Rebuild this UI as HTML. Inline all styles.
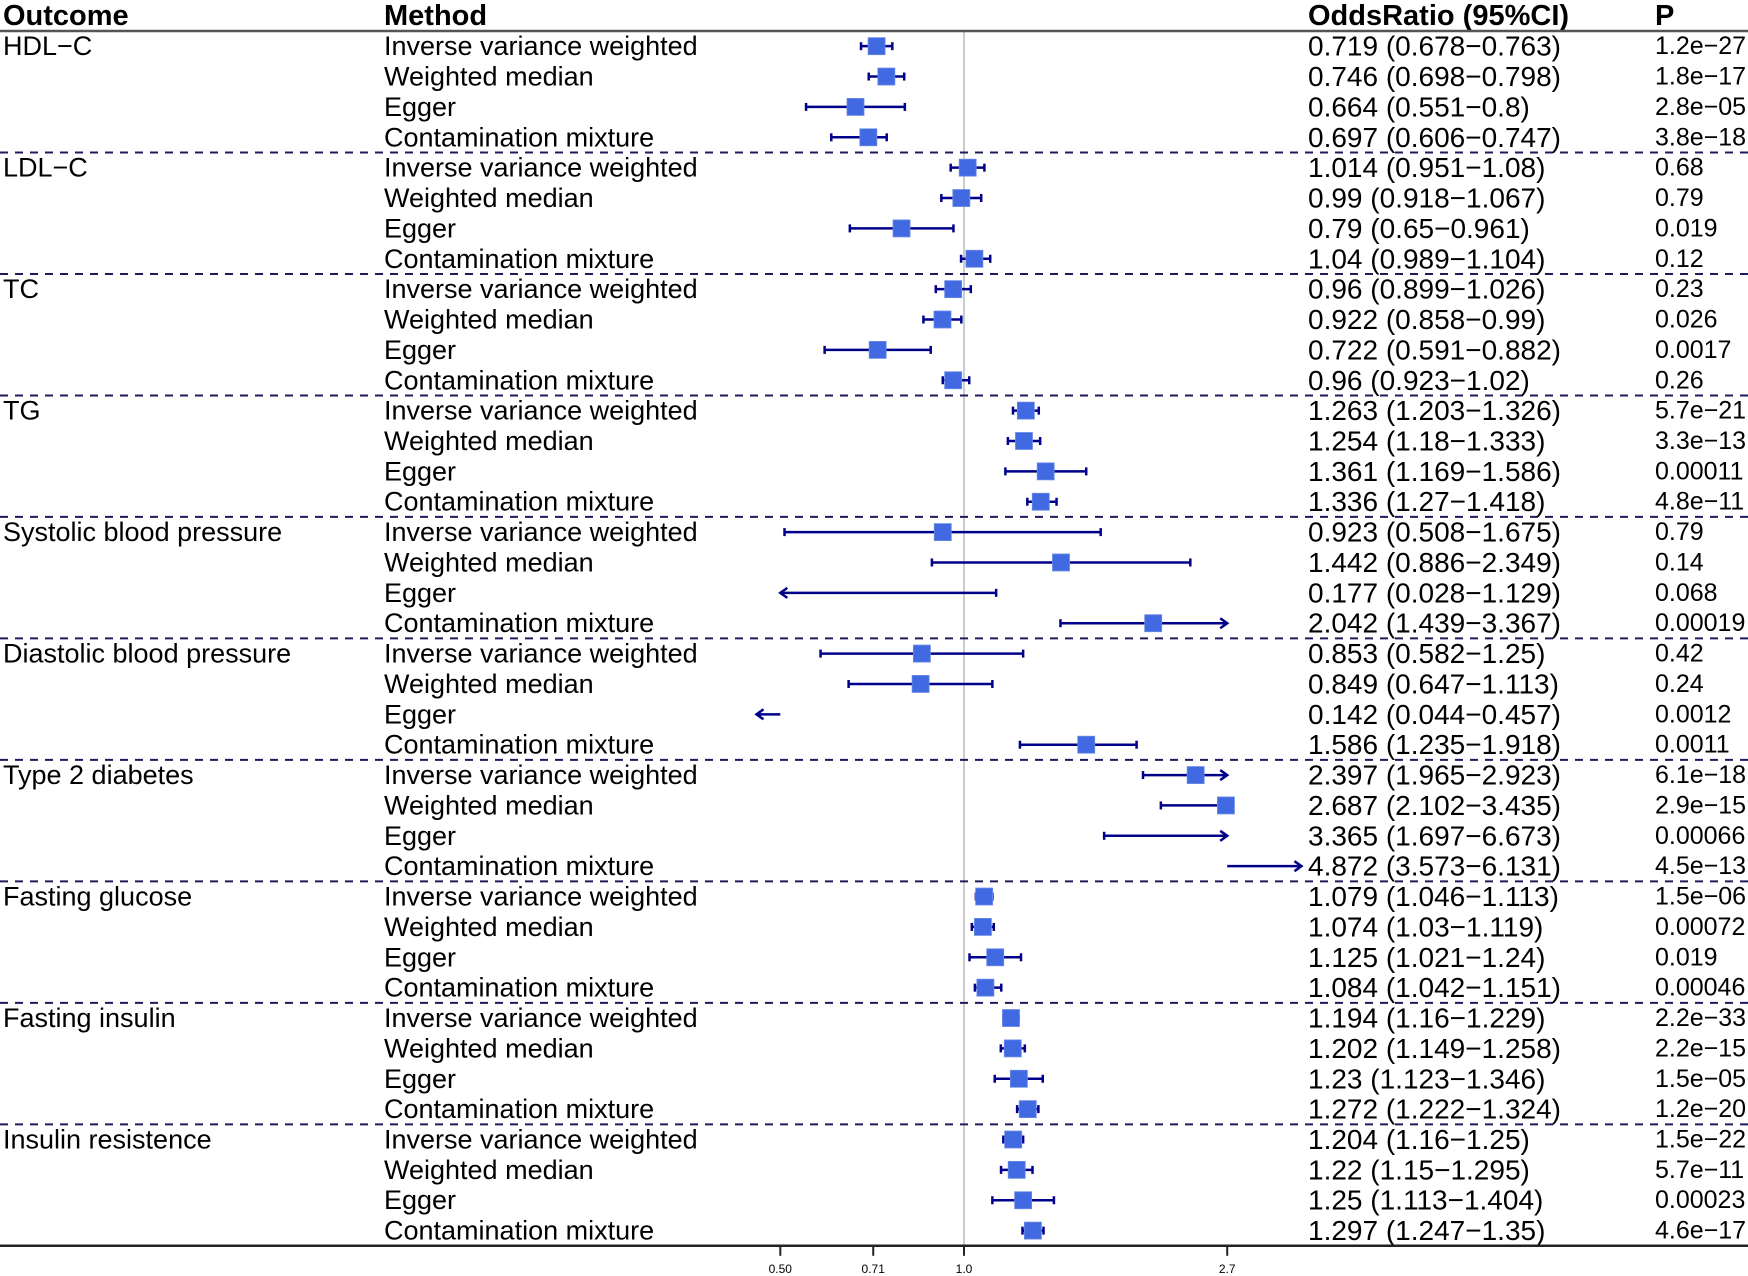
<!DOCTYPE html>
<html><head><meta charset="utf-8"><style>
html,body{margin:0;padding:0;background:#fff;}
svg{display:block;font-family:"Liberation Sans",Arial,sans-serif;}
</style></head><body>
<svg id="chart" width="1748" height="1276" viewBox="0 0 1748 1276" xmlns="http://www.w3.org/2000/svg"></svg>
<script>
const outcomes = ["HDL\u2212C","LDL\u2212C","TC","TG","Systolic blood pressure","Diastolic blood pressure","Type 2 diabetes","Fasting glucose","Fasting insulin","Insulin resistence"];
const methods = ["Inverse variance weighted","Weighted median","Egger","Contamination mixture"];
const estimates = [0.719,0.746,0.664,0.697, 1.014,0.99,0.79,1.04, 0.96,0.922,0.722,0.96, 1.263,1.254,1.361,1.336, 0.923,1.442,0.177,2.042, 0.853,0.849,0.142,1.586, 2.397,2.687,3.365,4.872, 1.079,1.074,1.125,1.084, 1.194,1.202,1.23,1.272, 1.204,1.22,1.25,1.297];
const lowers = [0.678,0.698,0.551,0.606, 0.951,0.918,0.65,0.989, 0.899,0.858,0.591,0.923, 1.203,1.18,1.169,1.27, 0.508,0.886,0.028,1.439, 0.582,0.647,0.044,1.235, 1.965,2.102,1.697,3.573, 1.046,1.03,1.021,1.042, 1.16,1.149,1.123,1.222, 1.16,1.15,1.113,1.247];
const uppers = [0.763,0.798,0.8,0.747, 1.08,1.067,0.961,1.104, 1.026,0.99,0.882,1.02, 1.326,1.333,1.586,1.418, 1.675,2.349,1.129,3.367, 1.25,1.113,0.457,1.918, 2.923,3.435,6.673,6.131, 1.113,1.119,1.24,1.151, 1.229,1.258,1.346,1.324, 1.25,1.295,1.404,1.35];
const pvalues = ["1.2e\u221227","1.8e\u221217","2.8e\u221205","3.8e\u221218","0.68","0.79","0.019","0.12","0.23","0.026","0.0017","0.26","5.7e\u221221","3.3e\u221213","0.00011","4.8e\u221211","0.79","0.14","0.068","0.00019","0.42","0.24","0.0012","0.0011","6.1e\u221218","2.9e\u221215","0.00066","4.5e\u221213","1.5e\u221206","0.00072","0.019","0.00046","2.2e\u221233","2.2e\u221215","1.5e\u221205","1.2e\u221220","1.5e\u221222","5.7e\u221211","0.00023","4.6e\u221217"];
const tickValues = [0.5,0.71,1.0,2.7];
const tickLabels = ["0.50","0.71","1.0","2.7"];
const axisMin = 0.5, axisMax = 2.7;

const NS="http://www.w3.org/2000/svg";
const svg=document.getElementById('chart');
const TOP=31, ROWH=30.37, X0=964, K=265;
const OR_X=1308, P_X=1655;
function xScale(v){return X0+K*Math.log(v);}
function yRow(i){return TOP+(i+0.5)*ROWH;}
function mk(tag,attrs,parent){const e=document.createElementNS(NS,tag);for(const k in attrs)e.setAttribute(k,attrs[k]);(parent||svg).appendChild(e);return e;}
function txt(x,y,s,size,bold,parent){const t=mk('text',{x:x,y:y,'font-size':size,'dominant-baseline':'central','fill':'#000','font-weight':bold?'bold':'normal'},parent);t.textContent=s;return t;}
const nRows=estimates.length;
const BOTTOM=TOP+nRows*ROWH;

const ref=mk('line',{x1:xScale(1),x2:xScale(1),y1:TOP,y2:BOTTOM,stroke:'#cccccc','stroke-width':2});



const heads=[["Outcome",3,29],["Method",384,29],["OddsRatio (95%CI)",OR_X,29],["P",P_X,29]];
heads.forEach(h=>{const t=txt(h[1],16,h[0],h[2],true);

});
const topLine=mk('line',{x1:0,x2:1748,y1:TOP,y2:TOP,stroke:'#555','stroke-width':2.5});



for(let g=1;g<outcomes.length;g++){
  const y=TOP+g*methods.length*ROWH;
  const l=mk('line',{x1:0,x2:1748,y1:y,y2:y,stroke:'#1c1c5c','stroke-width':2,'stroke-dasharray':'8,7'});
  
  
}

for(let i=0;i<nRows;i++){
  const y=yRow(i);
  const g=Math.floor(i/methods.length), m=i%methods.length;
  if(m===0){const t=txt(3,y,outcomes[g],27,false);
    
    }
  const mt=txt(384,y,methods[m],27,false);
  
  
  const ot=txt(OR_X,y,String(estimates[i])+" ("+String(lowers[i])+"\u2212"+String(uppers[i])+")",28,false);
  
  
  const pt=txt(P_X,y,pvalues[i],25,false);
  
  

  const lo=lowers[i], hi=uppers[i];
  let a,b,arrowL=false,arrowR=false,capL=true,capR=true;
  if(lo>axisMax){a=xScale(axisMax);b=xScale(lo);arrowR=true;capL=false;capR=false;}
  else if(hi<axisMin){a=xScale(hi);b=xScale(axisMin);arrowL=true;capL=false;capR=false;}
  else{
    a=xScale(Math.max(lo,axisMin)); b=xScale(Math.min(hi,axisMax));
    if(lo<axisMin){arrowL=true;capL=false;}
    if(hi>axisMax){arrowR=true;capR=false;}
  }
  const grp=mk('g',{});
  
  
  const col='#00008B';
  mk('line',{x1:a,x2:b,y1:y,y2:y,stroke:col,'stroke-width':2.5},grp);
  if(capL)mk('line',{x1:a,x2:a,y1:y-4,y2:y+4,stroke:col,'stroke-width':2.5},grp);
  if(capR)mk('line',{x1:b,x2:b,y1:y-4,y2:y+4,stroke:col,'stroke-width':2.5},grp);
  if(arrowL)mk('polyline',{points:(a+7)+','+(y-5)+' '+a+','+y+' '+(a+7)+','+(y+5),fill:'none',stroke:col,'stroke-width':2.5},grp);
  if(arrowR)mk('polyline',{points:(b-7)+','+(y-5)+' '+b+','+y+' '+(b-7)+','+(y+5),fill:'none',stroke:col,'stroke-width':2.5},grp);
  const e=estimates[i];
  if(e>=axisMin&&e<=axisMax){
    const s=17, cx=xScale(e);
    const r=mk('rect',{x:cx-s/2,y:y-s/2,width:s,height:s,fill:'#4169E1',stroke:'#6a8ae8','stroke-width':0.8});
    
    
  }
}

const axis=mk('line',{x1:0,x2:1748,y1:BOTTOM,y2:BOTTOM,stroke:'#222','stroke-width':2.5});


tickValues.forEach((v,j)=>{
  const x=xScale(v);
  const tk=mk('line',{x1:x,x2:x,y1:BOTTOM,y2:BOTTOM+10,stroke:'#222','stroke-width':2});
  
  
  const t=mk('text',{x:x,y:BOTTOM+23,'font-size':12,'text-anchor':'middle','dominant-baseline':'central',fill:'#000'});
  t.textContent=tickLabels[j];
  
  
});
</script>
</body></html>
